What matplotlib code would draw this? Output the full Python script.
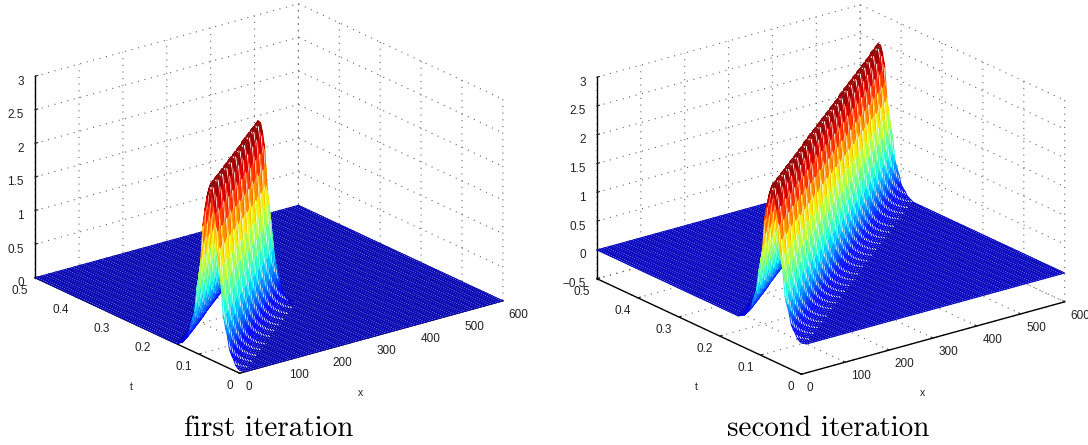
import numpy as np
import matplotlib
matplotlib.use('Agg')
import matplotlib.pyplot as plt

plt.rcParams['font.family'] = ['Liberation Sans', 'DejaVu Sans']
plt.rcParams['grid.linestyle'] = (0, (1, 5))
plt.rcParams['grid.linewidth'] = 0.8
plt.rcParams['grid.color'] = '#666666'

# mesh lines, x step 6 and t step 0.005
x_vals = np.arange(0, 606, 6)
t_vals = np.arange(0, 101) / 200

# pulse height, going out from the crest, one mesh column per entry
pulse = [2.50, 2.46, 2.32, 2.12, 1.88, 1.62, 1.36, 1.12, 0.91, 0.73, 0.58,
         0.46, 0.36, 0.28, 0.21, 0.16, 0.12, 0.09, 0.06, 0.04, 0.02]

# mesh column of the crest for each t line
crest_col = [-19, -18, -17, -15, -14, -13, -11, -10, -9, -7, -6, -5, -3, -2, -1, 1, 2,
             3, 4, 6, 7, 8, 10, 11, 12, 14, 15, 16, 18, 19, 20, 22, 23, 24, 26, 27,
             28, 30, 31, 32, 33, 35, 36, 37, 39, 40, 41, 43, 44, 45, 47, 48, 49, 51,
             52, 53, 55, 56, 57, 59, 60, 61, 63, 64, 65, 66, 68, 69, 70, 72, 73, 74,
             76, 77, 78, 80, 81, 82, 84, 85, 86, 88, 89, 90, 92, 93, 94, 95, 97, 98,
             99, 101, 102, 103, 105, 106, 107, 109, 110, 111, 113]

# first iteration only reaches about x=280 and stands a bit taller
first_end_col = 46
first_falloff = [1.0, 0.8, 0.45, 0.15, 0.03]
first_amp = 1.03

z_ticks_first = [0, 0.5, 1, 1.5, 2, 2.5, 3]
z_ticks_second = [-0.5, 0, 0.5, 1, 1.5, 2, 2.5, 3]
z_labels_first = ['0', '0.5', '1', '1.5', '2', '2.5', '3']
z_labels_second = ['\u22120.5', '0', '0.5', '1', '1.5', '2', '2.5', '3']
x_ticks = [0, 100, 200, 300, 400, 500, 600]
t_ticks = [0, 0.1, 0.2, 0.3, 0.4, 0.5]
t_labels = ['0', '0.1', '0.2', '0.3', '0.4', '0.5']
captions = ['first iteration', 'second iteration']


def build_surface(end_col=None, amp=1.0):
    Z = np.zeros((len(t_vals), len(x_vals)))
    for i, c in enumerate(crest_col):
        for j in range(len(x_vals)):
            k = abs(j - c)
            if k < len(pulse):
                Z[i, j] = amp * pulse[k]
    if end_col is not None:
        for n, f in enumerate(first_falloff):
            Z[:, end_col + n] *= f
        Z[:, end_col + len(first_falloff):] = 0
    return Z


def px_text(px, py, s, **kw):
    fig.text(px / 1088, 1 - py / 445, s, ha='center', va='center', **kw)


def draw_panel(rect, Z, zlim, z_ticks, z_labels, vmin, caption, caption_x, t_px, x_px):
    ax = fig.add_axes(rect, projection='3d', proj_type='ortho')
    ax.view_init(elev=21, azim=-127.5)
    ax.set_box_aspect((332, 336, 216))
    ax.patch.set_alpha(0)

    X, T = np.meshgrid(x_vals, t_vals)
    white = np.ones(Z.shape + (4,))
    surf = ax.plot_surface(X, T, Z, rstride=1, cstride=1, facecolors=white, shade=False,
                           linewidth=0.7, antialiased=True)
    face_z = (Z[:-1, :-1] + Z[1:, :-1] + Z[:-1, 1:] + Z[1:, 1:]) / 4
    norm = plt.Normalize(vmin, Z.max())
    surf.set_edgecolors(plt.cm.jet(norm(face_z)).reshape(-1, 4))

    ax.set_xlim(0, 600)
    ax.set_ylim(0, 0.5)
    ax.set_zlim(*zlim)
    ax.set_xticks(x_ticks)
    ax.set_yticks(t_ticks, labels=t_labels)
    ax.set_zticks(z_ticks, labels=z_labels)
    ax.zaxis.set_ticks_position('upper')

    for axis in (ax.xaxis, ax.yaxis, ax.zaxis):
        axis.set_pane_color((1, 1, 1, 0))
        axis.pane.set_edgecolor((1, 1, 1, 0))
        axis.line.set_color('black')
        axis.line.set_linewidth(1.0)
        axis._axinfo['tick']['inward_factor'] = 0.0
        axis._axinfo['tick']['outward_factor'] = 0.12
        axis._axinfo['tick']['linewidth'] = {True: 0.8, False: 0.5}
    ax.tick_params(axis='both', labelsize=8.5, pad=-3, colors='#222222')
    ax.tick_params(axis='z', labelsize=8.5, pad=-3.5, colors='#222222')
    for lab in ax.get_xticklabels():
        lab.set_ha('left')
    for lab in ax.get_yticklabels():
        lab.set_ha('right')
    for lab in ax.get_zticklabels():
        lab.set_ha('right')
    px_text(t_px, 387, 't', fontsize=7.5, color='#222222')
    px_text(x_px, 393, 'x', fontsize=7.5, color='#222222')
    px_text(caption_x, 429, caption, family='cmr10', fontsize=21, color='black')
    return ax


fig = plt.figure(figsize=(10.88, 4.45), dpi=100, facecolor='white')

draw_panel([10.2 / 1088, -2.3 / 445, 504 / 1088, 504 / 445], build_surface(first_end_col, first_amp),
           (0, 3), z_ticks_first, z_labels_first, -0.12, captions[0], 269, 131, 360)
draw_panel([572 / 1088, -3.3 / 445, 504 / 1088, 504 / 445], build_surface(),
           (-0.5, 3), z_ticks_second, z_labels_second, -0.15, captions[1], 828, 696, 922)

fig.savefig('out.png', dpi=100)
